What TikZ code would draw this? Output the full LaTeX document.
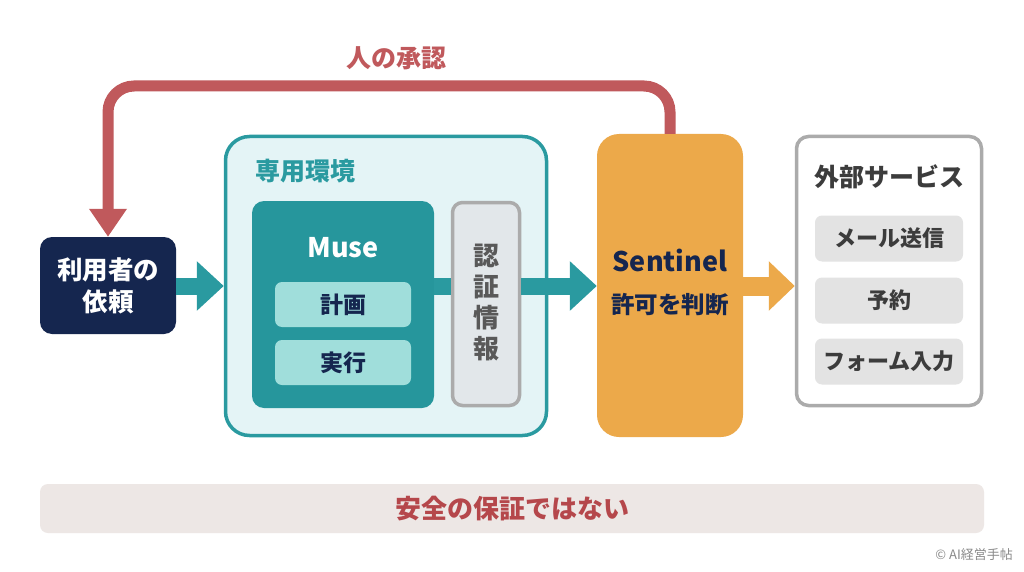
\documentclass[tikz,border=0pt]{standalone}
\usepackage{fontspec}
\setmainfont{Noto Sans CJK JP}
\usetikzlibrary{arrows.meta}
\definecolor{cred}{HTML}{C0595C}
\definecolor{cteal}{HTML}{2A9AA0}
\definecolor{cmuse}{HTML}{26969C}
\definecolor{cenvfill}{HTML}{E4F4F6}
\definecolor{csub}{HTML}{A0DEDB}
\definecolor{cnavy}{HTML}{15264F}
\definecolor{corange}{HTML}{ECA94A}
\definecolor{cgraybd}{HTML}{ABABAB}
\definecolor{cauthfill}{HTML}{E2E7EA}
\definecolor{cextsub}{HTML}{E3E3E3}
\definecolor{cbanner}{HTML}{EDE7E5}
\definecolor{cbantext}{HTML}{B5474B}
\definecolor{ctextgray}{HTML}{3C3C3C}
\definecolor{ccopy}{HTML}{8A8A8A}
\tikzset{
  box/.style={rectangle, inner sep=0pt, anchor=center},
  subbox/.style={box, fill=csub, rounded corners=7pt, minimum width=136pt, minimum height=45pt, text=cnavy, font=\fontsize{23}{26}\selectfont\bfseries},
  extsub/.style={box, fill=cextsub, rounded corners=7pt, minimum width=148pt, minimum height=46pt, text=ctextgray, font=\fontsize{22}{26}\selectfont\bfseries},
  conn/.style={line width=17pt},
}
\begin{document}
\begin{tikzpicture}[x=1pt,y=-1pt]
\useasboundingbox[fill=white] (0,0) rectangle (1024,572);
% nodes
\node[box, fill=cnavy, rounded corners=12pt, minimum width=136pt, minimum height=97pt, text=white, align=center, font=\fontsize{25.5}{32}\selectfont\bfseries] (user) at (108,285.5) {利用者の\\依頼};
\node[box, fill=cenvfill, draw=cteal, line width=3.5pt, rounded corners=24pt, minimum width=321pt, minimum height=299pt] (env) at (386,286) {};
\node[text=cteal, font=\fontsize{25}{28}\selectfont\bfseries] (envlabel) at (305.5,171) {専用環境};
\node[box, fill=cmuse, rounded corners=12pt, minimum width=182pt, minimum height=207pt] (muse) at (343,304.5) {};
\node[text=white, font=\fontsize{27}{30}\selectfont\bfseries] (musetitle) at (343,248) {Muse};
\node[subbox] (plan) at (343,304.5) {計画};
\node[subbox] (exec) at (343,362.5) {実行};
\node[box, fill=cauthfill, draw=cgraybd, line width=3.5pt, rounded corners=10pt, minimum width=67pt, minimum height=203pt] (auth) at (486,304) {};
\node[text=ctextgray!85!white, align=center, font=\fontsize{26}{31}\selectfont\bfseries] (authtext) at (486,303) {認\\証\\情\\報};
\node[box, fill=corange, rounded corners=22pt, minimum width=146pt, minimum height=303pt] (sentinel) at (670,285.5) {};
\node[text=cnavy, font=\fontsize{27}{30}\selectfont\bfseries] (senttitle) at (670,260) {Sentinel};
\node[text=cnavy, font=\fontsize{23.5}{28}\selectfont\bfseries] (sentsub) at (670,305) {許可を判断};
\node[box, fill=white, draw=cgraybd, line width=3.5pt, rounded corners=12pt, minimum width=185pt, minimum height=269pt] (ext) at (889,271) {};
\node[text=ctextgray, font=\fontsize{25}{28}\selectfont\bfseries] (exttitle) at (889.5,177) {外部サービス};
\node[extsub] (mail) at (889,238.5) {メール送信};
\node[extsub] (reserve) at (889,300.5) {予約};
\node[extsub] (form) at (889,361.5) {フォーム入力};
\node[box, fill=cbanner, rounded corners=8pt, minimum width=944pt, minimum height=49pt, text=cbantext, font=\fontsize{26}{28}\selectfont\bfseries] (banner) at (512,508.5) {安全の保証ではない};
\node[anchor=east, text=ccopy, inner sep=0pt, font=\fontsize{13}{15}\selectfont] (copy) at (1013,555) {© AI経営手帖};
\node[text=cred, font=\fontsize{25}{28}\selectfont\bfseries] (approval) at (396,58) {人の承認};
% connectors
\coordinate (loopy) at (400,86);
\draw[cred, line width=11pt, rounded corners=26pt, -{Triangle[width=36pt,length=28pt]}] (sentinel.north) |- (loopy) -| (user.north);
\draw[cteal, conn, -{Triangle[width=48pt,length=27pt]}] (user.east |- env.west) -- (env.west);
\draw[cteal, conn] (muse.east |- env.west) -- (auth.west |- env.west);
\draw[cteal, conn, -{Triangle[width=48pt,length=27pt]}] (auth.east |- env.west) -- (sentinel.west |- env.west);
\draw[corange, line width=19pt, -{Triangle[width=48pt,length=26pt]}] (sentinel.east |- env.west) -- (ext.west |- env.west);
\end{tikzpicture}
\end{document}
